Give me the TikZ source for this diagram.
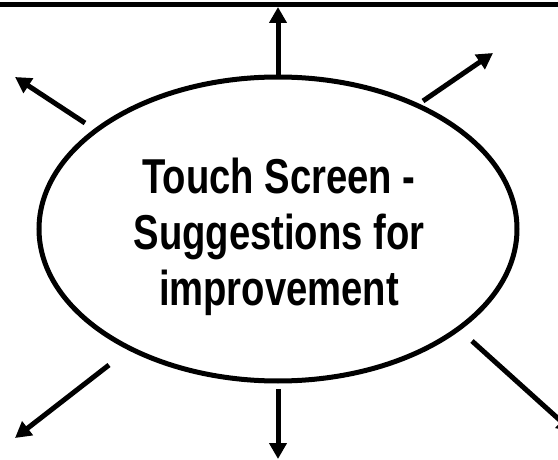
\documentclass[tikz,border=0pt]{standalone}
\usepackage{fontspec}
\usetikzlibrary{arrows.meta,shapes.geometric}
\newfontfamily\tsfont{Liberation Sans}[FakeStretch=0.78]
\begin{document}
\begin{tikzpicture}[x=1pt,y=1pt,
  thickline/.style={line width=5pt},
  outarrow/.style={line width=5pt,-{Triangle[length=16pt,width=17pt]}},
  bubble/.style={ellipse,draw,line width=5pt,minimum width=478pt,minimum height=304pt,inner sep=0pt},
  title/.style={align=center,inner sep=0pt,font=\tsfont\bfseries\fontsize{49}{56}\selectfont}]
\useasboundingbox (0,0) rectangle (558,459);
% top bar
\coordinate (barL) at (-5,454.5);
\coordinate (barR) at (563,454.5);
\draw[thickline] (barL) -- (barR);
% ellipse
\node[bubble] (e) at (278,230) {};
\node[title,anchor=north] (t) at (279,301) {Touch Screen -\\Suggestions for\\improvement};
% arrow ends
\coordinate (tTop) at (278,382);   \coordinate (hTop) at (278,452);
\coordinate (tUR) at (423,358);    \coordinate (hUR) at (493,406);
\coordinate (tUL) at (85,336);     \coordinate (hUL) at (15,382);
\coordinate (tLL) at (109,94);     \coordinate (hLL) at (15,21);
\coordinate (tBot) at (278,70);    \coordinate (hBot) at (278,0);
\coordinate (tLR) at (472,118);    \coordinate (hLR) at (573,27);
\draw[outarrow] (tTop) -- (hTop);
\draw[outarrow] (tUR) -- (hUR);
\draw[outarrow] (tUL) -- (hUL);
\draw[outarrow] (tLL) -- (hLL);
\draw[outarrow] (tBot) -- (hBot);
\draw[outarrow] (tLR) -- (hLR);
\end{tikzpicture}
\end{document}
